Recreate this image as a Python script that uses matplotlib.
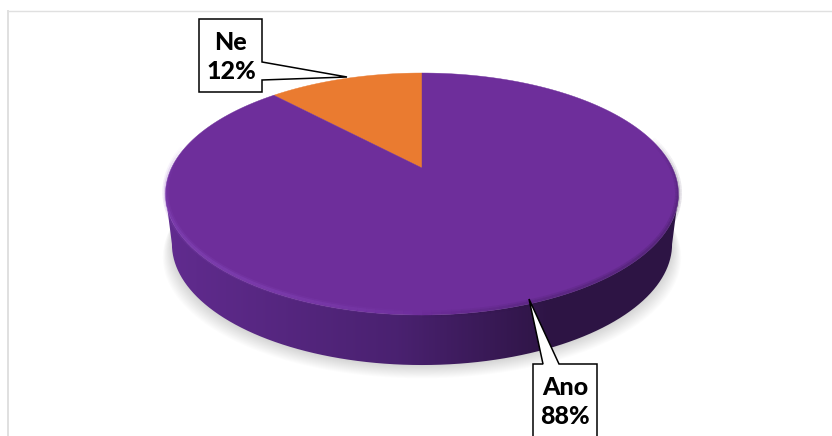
import numpy as np
import matplotlib
matplotlib.use('Agg')
import matplotlib.pyplot as plt
from matplotlib.patches import Polygon, PathPatch
from matplotlib.path import Path

# hodnoty z grafu
labels = ['Ano', 'Ne']
values = [88, 12]
colors = ['#6e2e9b', '#ea7b30']

plt.rcParams['font.family'] = ['Lato', 'DejaVu Sans']

# kresli se v pixelech obrazku
fig = plt.figure(figsize=(8.32, 4.36), dpi=100)
ax = fig.add_axes([0, 0, 1, 1])
ax.set_xlim(0, 832)
ax.set_ylim(436, 0)
ax.axis('off')

CX, CY, K, A, C = 422, 168, 250.5, -79.3, 0.215
DEPTH = 50
TAPER = 0.975  # spodni hrana je kvuli perspektive uzsi


def project(theta):
    # perspektiva kruhu, theta merena od vrsku po smeru hodinovych rucicek
    u = np.cos(theta)
    v = np.sin(theta)
    d = C * u + 1
    return CX + K * v / d, (A * u + CY) / d


# ramecek
ax.plot([7.5, 7.5], [436, 11], color='#e0e0e0', lw=1.4)
ax.plot([7.5, 832], [11.5, 11.5], color='#e0e0e0', lw=1.0)

tt = np.linspace(0, 2 * np.pi, 361)
ex, ey = project(tt)
bx = CX + (ex - CX) * TAPER
by = ey + DEPTH

# stin pod kolacem
for i in range(14):
    grow = 13 - i
    ax.fill(CX + (bx - CX) * (1 + grow * 0.0028), by + 1 + grow * 0.95,
            color='black', alpha=0.013, lw=0, zorder=1)

# bocni stena s prechodem zleva doprava, od krajniho bodu k krajnimu bodu
side = np.arccos(-C)
low = np.linspace(side, 2 * np.pi - side, 181)
lowx, lowy = project(low)
wall = np.vstack([np.column_stack([CX + (lowx - CX) * TAPER, lowy + DEPTH]),
                  np.column_stack([lowx[::-1], lowy[::-1]])])
patch = PathPatch(Path(wall), fc='none', ec='none', zorder=2)
ax.add_patch(patch)
stops = np.array([[0.38, 0.17, 0.56], [0.29, 0.13, 0.44], [0.18, 0.08, 0.27], [0.18, 0.08, 0.27]])
pos = np.array([0.0, 0.45, 0.75, 1.0])
g = np.linspace(0, 1, 256)
grad = np.stack([np.interp(g, pos, stops[:, c]) for c in range(3)], axis=-1)[None, :, :]
im = ax.imshow(grad, extent=[ex.min(), ex.max(), 436, 0], aspect='auto', zorder=2, interpolation='bilinear')
im.set_clip_path(patch)
ax.set_xlim(0, 832)
ax.set_ylim(436, 0)

# vrchni plocha z hodnot
start = 0.0
for n in [1, 0]:
    span = 2 * np.pi * values[n] / sum(values)
    th = -start - np.linspace(0, span, 200)
    px, py = project(th)
    ax.add_patch(Polygon(np.vstack([[CX, CY], np.column_stack([px, py])]), fc=colors[n], ec=colors[n], lw=0.3, zorder=3))
    start += span

# svetla hrana vlevo dole, postupne mizi
seg = np.linspace(np.pi * 1.0, np.pi * 1.55, 60)
for i in range(len(seg) - 1):
    sx, sy = project(seg[i:i + 2])
    fade = np.sin(np.pi * (i + 0.5) / (len(seg) - 1)) ** 0.7
    for lw, a in [(4.5, 0.16), (2.2, 0.3)]:
        ax.plot(sx, sy - 2, color='#8d4fc4', lw=lw, alpha=a * fade, zorder=4, solid_capstyle='butt')

# tmavy rozmazany okraj vpravo dole
seg = np.linspace(np.pi * 0.42, np.pi * 1.0, 60)
for i in range(len(seg) - 1):
    sx, sy = project(seg[i:i + 2])
    fade = np.sin(np.pi * (i + 0.5) / (len(seg) - 1)) ** 0.7
    for lw, a in [(5, 0.14), (2.5, 0.2)]:
        ax.plot(sx, sy - 1, color='#2d1545', lw=lw, alpha=a * fade, zorder=4, solid_capstyle='butt')


def callout(box, ptr, text, tx, ty):
    # box s vybezkem na hodnotu
    ax.add_patch(Polygon(box + ptr, closed=True, fc='white', ec='black', lw=1.1, zorder=6))
    ax.text(tx, ty, text, ha='center', va='center', fontsize=18, fontweight='black',
            color='black', linespacing=1.28, zorder=7)


callout([(533, 440), (533, 364)], [(543, 364), (529, 299), (559, 364), (597, 364), (597, 440)],
        '%s\n%d%%' % (labels[0], values[0]), 565, 402)
callout([(262, 80), (262, 92), (199, 92), (199, 19), (262, 19), (262, 62)], [(347, 77)],
        '%s\n%d%%' % (labels[1], values[1]), 231, 57)

fig.savefig('out.png', dpi=100)
